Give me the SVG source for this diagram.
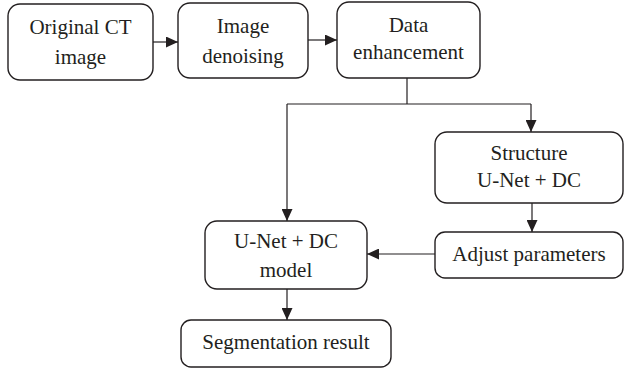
<svg xmlns="http://www.w3.org/2000/svg" width="626" height="373" viewBox="0 0 626 373">
  <style>
    .box { fill: #ffffff; stroke: #231f20; stroke-width: 1.4; }
    .lbl { font-size: 21px; fill: #231f20; text-anchor: middle; }
    .wire { fill: none; stroke: #231f20; stroke-width: 1.2; }
    .end { marker-end: url(#head); }
  </style>
  <defs>
    <marker id="head" viewBox="0 0 12 11" refX="12" refY="5.5" markerWidth="12" markerHeight="11" markerUnits="userSpaceOnUse" orient="auto">
      <path d="M0,0 L12,5.5 L0,11 Z" fill="#231f20"/>
    </marker>
  </defs>
  <rect width="626" height="373" fill="#ffffff"/>

  <g id="connectors">
    <path class="wire end" d="M153,42 L178,42"/>
    <path class="wire end" d="M308,40 L337,40"/>
    <path class="wire" d="M407,78 L407,104"/>
    <path class="wire" d="M287,104 L531,104"/>
    <path class="wire end" d="M531,104 L531,132"/>
    <path class="wire end" d="M287,104 L287,221"/>
    <path class="wire end" d="M532,203 L532,232"/>
    <path class="wire end" d="M435,254 L367,254"/>
    <path class="wire end" d="M287,289 L287,320"/>
  </g>

  <g font-family="Liberation Serif, Times New Roman, serif">
    <g id="original-ct">
      <rect class="box" x="8" y="4" width="145" height="76" rx="12"/>
      <text class="lbl" x="80.5" y="34">Original CT</text>
      <text class="lbl" x="80.5" y="64">image</text>
    </g>

    <g id="denoising">
      <rect class="box" x="178" y="3" width="130" height="75" rx="12"/>
      <text class="lbl" x="243" y="33">Image</text>
      <text class="lbl" x="243" y="63">denoising</text>
    </g>

    <g id="enhancement">
      <rect class="box" x="337" y="2" width="143" height="76" rx="12"/>
      <text class="lbl" x="408.5" y="32">Data</text>
      <text class="lbl" x="408.5" y="59">enhancement</text>
    </g>

    <g id="structure">
      <rect class="box" x="435" y="132" width="188" height="71" rx="12"/>
      <text class="lbl" x="529" y="160">Structure</text>
      <text class="lbl" x="529" y="187">U-Net + DC</text>
    </g>

    <g id="adjust">
      <rect class="box" x="435" y="232" width="188" height="46" rx="10"/>
      <text class="lbl" x="529" y="261">Adjust parameters</text>
    </g>

    <g id="model">
      <rect class="box" x="205" y="221" width="162" height="68" rx="12"/>
      <text class="lbl" x="286" y="248">U-Net + DC</text>
      <text class="lbl" x="286" y="277">model</text>
    </g>

    <g id="result">
      <rect class="box" x="181" y="320" width="210" height="47" rx="10"/>
      <text class="lbl" x="286" y="349">Segmentation result</text>
    </g>
  </g>
</svg>
